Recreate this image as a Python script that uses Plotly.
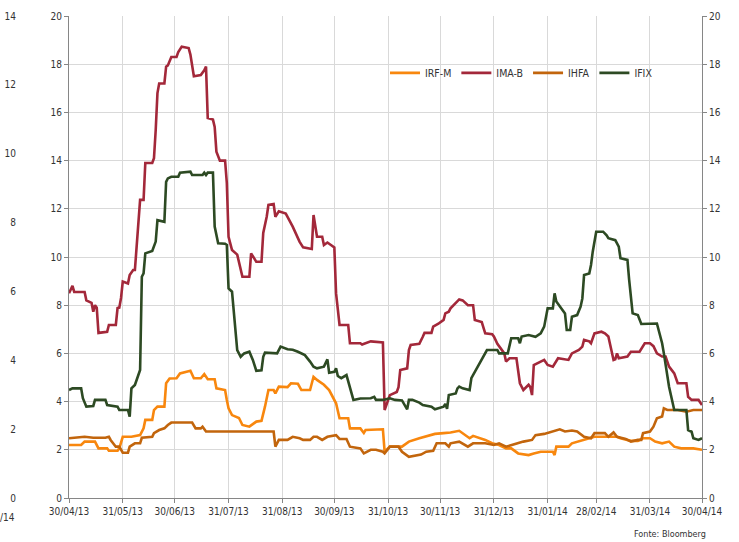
import plotly.graph_objects as go

# --- data (annualised volatility, %) ---
irfm_dates = ["2013-04-30", "2013-05-03", "2013-05-07", "2013-05-09", "2013-05-15", "2013-05-17", "2013-05-22",
              "2013-05-23", "2013-05-28", "2013-05-29", "2013-05-31", "2013-06-05", "2013-06-10", "2013-06-12",
              "2013-06-13", "2013-06-17", "2013-06-18", "2013-06-20", "2013-06-24", "2013-06-25", "2013-06-27",
              "2013-07-01", "2013-07-03", "2013-07-09", "2013-07-11", "2013-07-15", "2013-07-17", "2013-07-19",
              "2013-07-23", "2013-07-24", "2013-07-29", "2013-07-30", "2013-07-31", "2013-08-02", "2013-08-06",
              "2013-08-08", "2013-08-12", "2013-08-16", "2013-08-19", "2013-08-21", "2013-08-23", "2013-08-26",
              "2013-08-27", "2013-08-29", "2013-09-03", "2013-09-05", "2013-09-09", "2013-09-11", "2013-09-16",
              "2013-09-18", "2013-09-20", "2013-09-24", "2013-09-27", "2013-10-01", "2013-10-03", "2013-10-08",
              "2013-10-09", "2013-10-15", "2013-10-17", "2013-10-18", "2013-10-28", "2013-10-29", "2013-11-01",
              "2013-11-08", "2013-11-12", "2013-11-18", "2013-11-22", "2013-11-27", "2013-12-02", "2013-12-06",
              "2013-12-11", "2013-12-13", "2013-12-17", "2013-12-19", "2013-12-23", "2013-12-26", "2013-12-30",
              "2014-01-03", "2014-01-07", "2014-01-10", "2014-01-14", "2014-01-20", "2014-01-23", "2014-01-27",
              "2014-02-03", "2014-02-04", "2014-02-05", "2014-02-12", "2014-02-14", "2014-02-20", "2014-02-24",
              "2014-02-27", "2014-03-12", "2014-03-14", "2014-03-20", "2014-03-24", "2014-03-27", "2014-03-31",
              "2014-04-03", "2014-04-07", "2014-04-11", "2014-04-14", "2014-04-18", "2014-04-25", "2014-04-30"]
irfm_values = [2.2, 2.2, 2.2, 2.34, 2.34, 2.06, 2.06,
               1.96, 1.96, 2.06, 2.54, 2.54, 2.61, 2.89,
               3.24, 3.24, 3.65, 3.79, 3.79, 4.76, 4.96,
               4.97, 5.17, 5.28, 4.97, 4.97, 5.14, 4.93,
               4.93, 4.55, 4.48, 4.07, 3.72, 3.44, 3.32,
               3.03, 2.96, 3.17, 3.2, 3.79, 4.48, 4.48,
               4.34, 4.62, 4.6, 4.76, 4.74, 4.48, 4.48,
               5.03, 4.9, 4.7, 4.48, 3.93, 3.31, 3.31,
               2.89, 2.89, 2.7, 2.82, 2.85, 1.92, 2.13,
               2.13, 2.34, 2.48, 2.55, 2.66, 2.69, 2.72,
               2.79, 2.69, 2.48, 2.58, 2.48, 2.41, 2.27,
               2.2, 2.06, 2.06, 1.85, 1.78, 1.85, 1.92,
               1.92, 1.78, 2.13, 2.13, 2.27, 2.41, 2.48,
               2.54, 2.54, 2.48, 2.37, 2.37, 2.48, 2.48,
               2.34, 2.27, 2.34, 2.13, 2.06, 2.06, 2.0]

imab_dates = ["2013-04-30", "2013-05-02", "2013-05-03", "2013-05-09", "2013-05-10", "2013-05-13", "2013-05-14",
              "2013-05-15", "2013-05-16", "2013-05-17", "2013-05-22", "2013-05-23", "2013-05-27", "2013-05-28",
              "2013-05-29", "2013-05-30", "2013-05-31", "2013-06-03", "2013-06-04", "2013-06-06", "2013-06-07",
              "2013-06-10", "2013-06-12", "2013-06-13", "2013-06-17", "2013-06-18", "2013-06-19", "2013-06-20",
              "2013-06-21", "2013-06-24", "2013-06-25", "2013-06-26", "2013-06-28", "2013-07-01", "2013-07-02",
              "2013-07-04", "2013-07-08", "2013-07-09", "2013-07-11", "2013-07-15", "2013-07-17", "2013-07-18",
              "2013-07-19", "2013-07-22", "2013-07-23", "2013-07-24", "2013-07-26", "2013-07-29", "2013-07-30",
              "2013-07-31", "2013-08-02", "2013-08-05", "2013-08-08", "2013-08-12", "2013-08-13", "2013-08-16",
              "2013-08-19", "2013-08-20", "2013-08-22", "2013-08-23", "2013-08-26", "2013-08-27", "2013-08-29",
              "2013-09-02", "2013-09-04", "2013-09-06", "2013-09-10", "2013-09-12", "2013-09-17", "2013-09-18",
              "2013-09-20", "2013-09-23", "2013-09-24", "2013-09-26", "2013-09-30", "2013-10-01", "2013-10-03",
              "2013-10-08", "2013-10-09", "2013-10-15", "2013-10-16", "2013-10-21", "2013-10-28", "2013-10-29",
              "2013-11-01", "2013-11-05", "2013-11-06", "2013-11-07", "2013-11-11", "2013-11-12", "2013-11-13",
              "2013-11-18", "2013-11-20", "2013-11-21", "2013-11-25", "2013-11-26", "2013-11-29", "2013-12-02",
              "2013-12-03", "2013-12-05", "2013-12-06", "2013-12-10", "2013-12-11", "2013-12-13", "2013-12-16",
              "2013-12-19", "2013-12-20", "2013-12-24", "2013-12-26", "2013-12-30", "2013-12-31", "2014-01-02",
              "2014-01-06", "2014-01-07", "2014-01-09", "2014-01-13", "2014-01-14", "2014-01-15", "2014-01-17",
              "2014-01-20", "2014-01-21", "2014-01-22", "2014-01-23", "2014-01-24", "2014-01-27", "2014-01-29",
              "2014-01-31", "2014-02-03", "2014-02-06", "2014-02-12", "2014-02-14", "2014-02-18", "2014-02-20",
              "2014-02-21", "2014-02-24", "2014-02-25", "2014-02-27", "2014-03-03", "2014-03-05", "2014-03-07",
              "2014-03-10", "2014-03-11", "2014-03-12", "2014-03-13", "2014-03-18", "2014-03-20", "2014-03-25",
              "2014-03-27", "2014-03-28", "2014-03-31", "2014-04-02", "2014-04-04", "2014-04-07", "2014-04-09",
              "2014-04-11", "2014-04-14", "2014-04-16", "2014-04-21", "2014-04-22", "2014-04-24", "2014-04-28",
              "2014-04-30"]
imab_values = [8.5, 8.8, 8.55, 8.55, 8.2, 8.1, 7.73,
               8.0, 7.9, 6.85, 6.9, 7.18, 7.18, 7.88,
               7.9, 8.3, 8.98, 8.9, 9.25, 9.46, 9.46,
               12.37, 12.37, 13.9, 13.9, 14.1, 15.27, 16.8,
               17.2, 17.2, 17.9, 17.95, 18.3, 18.3, 18.5,
               18.73, 18.67, 18.4, 17.5, 17.55, 17.75, 17.9,
               15.77, 15.7, 15.4, 14.37, 14.0, 14.0, 13.07,
               10.84, 10.29, 10.1, 9.18, 9.18, 10.15, 9.8,
               9.8, 11.0, 11.67, 12.16, 12.2, 11.67, 11.9,
               11.8, 11.53, 11.26, 10.63, 10.4, 10.33, 11.74,
               10.84, 10.84, 10.5, 10.6, 10.4, 8.49, 7.18,
               7.18, 6.42, 6.42, 6.37, 6.5, 6.45, 3.65,
               4.27, 4.4, 4.6, 5.31, 5.38, 6.14, 6.35,
               6.4, 6.69, 6.85, 6.85, 7.11, 7.23, 7.39,
               7.66, 7.73, 7.87, 8.15, 8.24, 8.2, 8.0,
               8.0, 7.39, 7.3, 6.83, 6.8, 6.7, 6.4,
               6.0, 5.66, 5.8, 5.8, 5.17, 4.76, 4.48,
               4.7, 4.6, 4.27, 5.52, 5.55, 5.66, 5.73,
               5.52, 5.45, 5.8, 5.73, 6.0, 6.14, 6.28,
               6.56, 6.5, 6.42, 6.83, 6.9, 6.83, 6.7,
               5.73, 5.76, 6.0, 5.8, 5.87, 6.07, 6.07,
               6.28, 6.42, 6.42, 6.3, 6.0, 5.87, 5.87,
               5.45, 5.17, 4.76, 4.76, 4.2, 4.07, 4.07,
               3.86]

ihfa_dates = ["2013-04-30", "2013-05-09", "2013-05-14", "2013-05-21", "2013-05-23", "2013-05-24", "2013-05-27",
              "2013-05-29", "2013-05-31", "2013-06-03", "2013-06-04", "2013-06-07", "2013-06-10", "2013-06-11",
              "2013-06-17", "2013-06-18", "2013-06-21", "2013-06-24", "2013-06-26", "2013-06-28", "2013-07-10",
              "2013-07-12", "2013-07-15", "2013-07-16", "2013-07-18", "2013-08-26", "2013-08-27", "2013-08-29",
              "2013-09-03", "2013-09-06", "2013-09-10", "2013-09-12", "2013-09-16", "2013-09-18", "2013-09-20",
              "2013-09-23", "2013-09-26", "2013-10-01", "2013-10-03", "2013-10-07", "2013-10-09", "2013-10-15",
              "2013-10-17", "2013-10-21", "2013-10-24", "2013-10-28", "2013-10-29", "2013-11-01", "2013-11-06",
              "2013-11-08", "2013-11-12", "2013-11-14", "2013-11-19", "2013-11-22", "2013-11-26", "2013-11-28",
              "2013-12-03", "2013-12-05", "2013-12-06", "2013-12-11", "2013-12-16", "2013-12-19", "2013-12-26",
              "2013-12-31", "2014-01-03", "2014-01-07", "2014-01-10", "2014-01-14", "2014-01-17", "2014-01-22",
              "2014-01-24", "2014-01-29", "2014-01-31", "2014-02-03", "2014-02-07", "2014-02-10", "2014-02-14",
              "2014-02-17", "2014-02-21", "2014-02-25", "2014-02-27", "2014-03-05", "2014-03-07", "2014-03-10",
              "2014-03-12", "2014-03-17", "2014-03-20", "2014-03-24", "2014-03-26", "2014-03-27", "2014-03-31",
              "2014-04-02", "2014-04-04", "2014-04-07", "2014-04-08", "2014-04-10", "2014-04-16", "2014-04-21",
              "2014-04-25", "2014-04-30"]
ihfa_values = [2.48, 2.54, 2.5, 2.5, 2.54, 2.41, 2.13,
               2.13, 1.88, 1.88, 2.13, 2.27, 2.27, 2.5,
               2.54, 2.69, 2.82, 2.89, 3.03, 3.13, 3.13,
               2.89, 2.89, 2.96, 2.76, 2.76, 2.13, 2.41,
               2.41, 2.54, 2.48, 2.41, 2.41, 2.54, 2.54,
               2.41, 2.54, 2.61, 2.45, 2.45, 2.13, 2.06,
               1.85, 2.0, 2.0, 1.92, 1.85, 2.13, 2.13,
               1.92, 1.71, 1.74, 1.8, 1.92, 1.96, 2.27,
               2.27, 2.13, 2.27, 2.34, 2.13, 2.27, 2.27,
               2.2, 2.27, 2.13, 2.2, 2.27, 2.34, 2.41,
               2.61, 2.66, 2.7, 2.76, 2.85, 2.76, 2.8,
               2.76, 2.54, 2.48, 2.69, 2.69, 2.54, 2.72,
               2.54, 2.45, 2.34, 2.41, 2.41, 2.69, 2.76,
               2.96, 3.31, 3.38, 3.72, 3.65, 3.65, 3.58,
               3.65, 3.65]

ifix_dates = ["2013-04-30", "2013-05-02", "2013-05-07", "2013-05-08", "2013-05-10", "2013-05-14", "2013-05-15",
              "2013-05-21", "2013-05-22", "2013-05-28", "2013-05-29", "2013-06-03", "2013-06-04", "2013-06-05",
              "2013-06-07", "2013-06-10", "2013-06-11", "2013-06-12", "2013-06-13", "2013-06-17", "2013-06-19",
              "2013-06-20", "2013-06-24", "2013-06-25", "2013-06-26", "2013-06-28", "2013-07-02", "2013-07-03",
              "2013-07-09", "2013-07-10", "2013-07-16", "2013-07-17", "2013-07-18", "2013-07-19", "2013-07-22",
              "2013-07-23", "2013-07-25", "2013-07-29", "2013-07-30", "2013-07-31", "2013-08-02", "2013-08-05",
              "2013-08-07", "2013-08-09", "2013-08-12", "2013-08-14", "2013-08-16", "2013-08-19", "2013-08-20",
              "2013-08-21", "2013-08-28", "2013-08-30", "2013-09-03", "2013-09-06", "2013-09-09", "2013-09-13",
              "2013-09-16", "2013-09-18", "2013-09-20", "2013-09-24", "2013-09-26", "2013-09-27", "2013-09-30",
              "2013-10-01", "2013-10-02", "2013-10-04", "2013-10-07", "2013-10-09", "2013-10-11", "2013-10-15",
              "2013-10-21", "2013-10-23", "2013-10-24", "2013-10-28", "2013-11-01", "2013-11-04", "2013-11-08",
              "2013-11-11", "2013-11-12", "2013-11-14", "2013-11-18", "2013-11-20", "2013-11-25", "2013-11-27",
              "2013-12-02", "2013-12-03", "2013-12-04", "2013-12-05", "2013-12-09", "2013-12-10", "2013-12-11",
              "2013-12-13", "2013-12-17", "2013-12-18", "2013-12-20", "2013-12-23", "2013-12-24", "2013-12-26",
              "2013-12-27", "2014-01-02", "2014-01-03", "2014-01-08", "2014-01-10", "2014-01-14", "2014-01-15",
              "2014-01-16", "2014-01-20", "2014-01-24", "2014-01-27", "2014-01-29", "2014-01-30", "2014-01-31",
              "2014-02-03", "2014-02-04", "2014-02-05", "2014-02-07", "2014-02-10", "2014-02-11", "2014-02-13",
              "2014-02-14", "2014-02-17", "2014-02-19", "2014-02-20", "2014-02-21", "2014-02-24", "2014-02-25",
              "2014-02-26", "2014-02-28", "2014-03-04", "2014-03-06", "2014-03-07", "2014-03-11", "2014-03-13",
              "2014-03-14", "2014-03-18", "2014-03-19", "2014-03-20", "2014-03-21", "2014-03-24", "2014-03-26",
              "2014-04-04", "2014-04-07", "2014-04-08", "2014-04-10", "2014-04-11", "2014-04-14", "2014-04-21",
              "2014-04-22", "2014-04-24", "2014-04-25", "2014-04-28", "2014-04-30"]
ifix_values = [4.48, 4.55, 4.55, 4.14, 3.79, 3.82, 4.07,
               4.07, 3.86, 3.79, 3.65, 3.65, 3.37, 4.55,
               4.69, 5.31, 9.18, 9.32, 10.15, 10.25, 10.64,
               11.53, 11.46, 13.12, 13.26, 13.33, 13.33, 13.5,
               13.54, 13.4, 13.4, 13.5, 13.4, 13.5, 13.5,
               11.26, 10.57, 10.55, 10.5, 8.7, 8.56, 6.14,
               5.86, 6.0, 6.07, 5.73, 5.28, 5.3, 5.86,
               6.03, 6.0, 6.28, 6.17, 6.15, 6.07, 5.93,
               5.66, 5.45, 5.38, 5.45, 5.75, 5.2, 5.24,
               5.38, 5.06, 4.97, 5.1, 4.62, 4.07, 4.13,
               4.14, 4.2, 4.07, 4.07, 4.14, 4.07, 4.05,
               3.68, 4.07, 4.07, 3.96, 3.86, 3.79, 3.68,
               3.79, 3.9, 3.7, 4.27, 4.34, 4.55, 4.62,
               4.55, 4.48, 4.97, 5.24, 5.66, 5.73, 6.03,
               6.14, 6.14, 6.0, 6.0, 6.63, 6.63, 6.42,
               6.7, 6.76, 6.69, 6.83, 7.11, 7.52, 7.87,
               7.87, 8.49, 8.15, 7.94, 7.66, 6.97, 6.97,
               7.52, 7.59, 7.94, 8.28, 9.25, 9.32, 9.67,
               10.22, 11.05, 11.05, 10.9, 10.78, 10.7, 10.43,
               9.95, 9.88, 9.05, 8.28, 7.66, 7.59, 7.22,
               7.24, 6.42, 6.0, 5.17, 4.62, 3.65, 3.65,
               2.82, 2.75, 2.48, 2.41, 2.48]

series_names = ["IRF-M", "IMA-B", "IHFA", "IFIX"]
series_colors = ["#F8870E", "#A3283A", "#C2650C", "#2D4A23"]

tick_dates = ["2013-04-30", "2013-05-31", "2013-06-30", "2013-07-31", "2013-08-31", "2013-09-30", "2013-10-31",
              "2013-11-30", "2013-12-31", "2014-01-31", "2014-02-28", "2014-03-31", "2014-04-30"]
tick_labels = ["30/04/13", "31/05/13", "30/06/13", "31/07/13", "31/08/13", "30/09/13", "31/10/13",
               "30/11/13", "31/12/13", "31/01/14", "28/02/14", "31/03/14", "30/04/14"]
y_ticks = [0, 2, 4, 6, 8, 10, 12, 14, 16, 18, 20]
outer_ticks = [0, 2, 4, 6, 8, 10, 12, 14]

W, H = 739, 542
FONT = "DejaVu Sans Condensed, Liberation Sans Narrow, Arial Narrow, sans-serif"
AXIS_GREY = "#868686"
GRID = "#D9D9D9"

fig = go.Figure()
all_x = [irfm_dates, imab_dates, ihfa_dates, ifix_dates]
all_y = [irfm_values, imab_values, ihfa_values, ifix_values]
for name, color, xs, ys in zip(series_names, series_colors, all_x, all_y):
    fig.add_trace(go.Scatter(x=xs, y=ys, name=name, mode="lines",
                             line=dict(color=color, width=2.6)))

# right-hand copy of the 0-20 axis
fig.add_trace(go.Scatter(x=[tick_dates[0], tick_dates[-1]], y=[0, 20], yaxis="y2", mode="lines",
                         line=dict(width=0), showlegend=False, hoverinfo="skip"))
# leftover 0-14 axis cut off at the left edge
fig.add_trace(go.Scatter(x=[tick_dates[0], tick_dates[-1]], y=[0, 14], yaxis="y3", mode="lines",
                         line=dict(width=0), showlegend=False, hoverinfo="skip"))

x0, x1 = 69 / W, 702 / W
tickfont = dict(family=FONT, size=10, color="#333333")

fig.update_layout(
    width=W, height=H,
    margin=dict(l=0, r=0, t=16, b=44, autoexpand=False),
    paper_bgcolor="white", plot_bgcolor="white",
    font=dict(family=FONT, size=10, color="#333333"),
    showlegend=True,
    legend=dict(orientation="h", x=385 / W, y=0.882, xanchor="left", yanchor="middle",
                font=dict(family=FONT, size=10.5, color="#333333"), bgcolor="rgba(0,0,0,0)",
                itemwidth=30, tracegroupgap=0),
    xaxis=dict(domain=[x0, x1], type="date", range=["2013-04-30", "2014-04-30"],
               tickmode="array", tickvals=tick_dates, ticktext=tick_labels, tickfont=tickfont,
               showgrid=True, gridcolor=GRID, gridwidth=1,
               showline=True, linecolor=AXIS_GREY, linewidth=1,
               ticks="outside", ticklen=4, tickcolor=AXIS_GREY, zeroline=False),
    yaxis=dict(range=[0, 20], tickvals=y_ticks, tickfont=tickfont,
               showgrid=True, gridcolor=GRID, gridwidth=1,
               showline=True, linecolor=AXIS_GREY, linewidth=1,
               ticks="outside", ticklen=4, tickcolor=AXIS_GREY, zeroline=False),
    yaxis2=dict(range=[0, 20], tickvals=y_ticks, tickfont=tickfont, overlaying="y", side="right",
                anchor="x", showgrid=False, showline=True, linecolor=AXIS_GREY, linewidth=1,
                ticks="outside", ticklen=4, tickcolor=AXIS_GREY, zeroline=False),
    yaxis3=dict(range=[0, 14], tickvals=outer_ticks, tickfont=tickfont, overlaying="y", side="left",
                anchor="free", position=16 / W, showgrid=False, showline=False, ticks="",
                zeroline=False),
)

fig.add_annotation(text="30/04/14", xref="paper", yref="paper", x=17 / W, y=-0.025,
                   xanchor="right", yanchor="top", showarrow=False, font=tickfont)
fig.add_annotation(text="Fonte: Bloomberg", xref="paper", yref="paper", x=708 / W, y=-0.06,
                   xanchor="right", yanchor="top", showarrow=False,
                   font=dict(family=FONT, size=9, color="#333333"))

# the page is photographed edge to edge, so drop the browser's default body margin
fig.write_html("out.html", config={"displayModeBar": False},
               post_script="document.body.style.margin='0';")
